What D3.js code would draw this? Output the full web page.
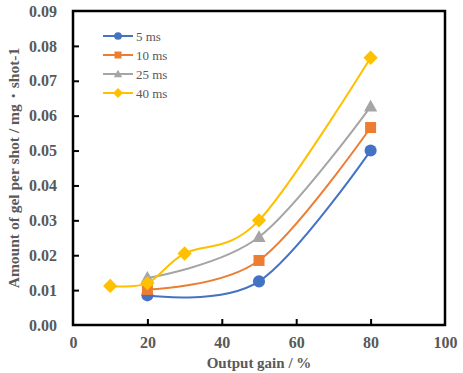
<!DOCTYPE html>
<html>
<head>
<meta charset="utf-8">
<script src="https://cdn.jsdelivr.net/npm/d3@7"></script>
<style>
  body { margin: 0; background: #fff; }
  text { font-family: "Liberation Serif", "Times New Roman", serif; }
</style>
</head>
<body>
<div id="chart"></div>
<script>
// output gain (%) per series, and gel amount (mg/shot)
var gain5 = [20, 50, 80];
var amount5 = [0.0085, 0.0125, 0.0500];
var gain10 = [20, 50, 80];
var amount10 = [0.0102, 0.0185, 0.0566];
var gain25 = [20, 50, 80];
var amount25 = [0.0135, 0.0252, 0.0626];
var gain40 = [10, 20, 30, 50, 80];
var amount40 = [0.0112, 0.0120, 0.0205, 0.0300, 0.0766];

var seriesNames = ['5 ms', '10 ms', '25 ms', '40 ms'];
var xTicks = [0, 20, 40, 60, 80, 100];
var yTicks = [0, 0.01, 0.02, 0.03, 0.04, 0.05, 0.06, 0.07, 0.08, 0.09];

var w = 463, h = 373;
var padL = 73, padR = 445, padT = 11, padB = 325;

var series = [
  { name: seriesNames[0], xs: gain5, ys: amount5, color: '#4472C4', shape: 'circle' },
  { name: seriesNames[1], xs: gain10, ys: amount10, color: '#ED7D31', shape: 'square' },
  { name: seriesNames[2], xs: gain25, ys: amount25, color: '#A5A5A5', shape: 'triangle' },
  { name: seriesNames[3], xs: gain40, ys: amount40, color: '#FFC000', shape: 'diamond' }
];

var xscale = d3.scaleLinear().domain([0, 100]).range([padL, padR]);
var yscale = d3.scaleLinear().domain([0, 0.09]).range([padB, padT]);

var svg = d3.select('#chart').append('svg')
  .attr('width', w)
  .attr('height', h);

var grey = '#595959';

// axes with inward ticks
var xaxis = d3.axisBottom(xscale).tickValues(xTicks).tickSize(-6).tickPadding(12)
  .tickFormat(d3.format('d'));
var yaxis = d3.axisLeft(yscale).tickValues(yTicks).tickSize(-6).tickPadding(16)
  .tickFormat(d3.format('.2f'));

var gx = svg.append('g').attr('transform', 'translate(0,' + padB + ')').call(xaxis);
var gy = svg.append('g').attr('transform', 'translate(' + padL + ',0)').call(yaxis);

[gx, gy].forEach(function(g) {
  g.select('.domain').remove();
  g.selectAll('.tick line').attr('stroke', '#000').attr('stroke-width', 2);
  g.selectAll('.tick text')
    .attr('fill', grey)
    .style('font-size', '16px')
    .style('font-weight', 'bold');
});
gx.selectAll('.tick').filter(function(d) { return d === 0 || d === 100; }).select('line').remove();
gy.selectAll('.tick').filter(function(d) { return d === 0 || d === 0.09; }).select('line').remove();

// frame
svg.append('rect')
  .attr('x', padL).attr('y', padT)
  .attr('width', padR - padL).attr('height', padB - padT)
  .attr('fill', 'none').attr('stroke', '#000').attr('stroke-width', 2.5);

// axis titles
svg.append('text')
  .attr('x', (padL + padR) / 2).attr('y', 368)
  .attr('text-anchor', 'middle')
  .attr('fill', grey)
  .style('font-size', '15px').style('font-weight', 'bold')
  .text('Output gain / %');

svg.append('text')
  .attr('transform', 'translate(19,' + ((padT + padB) / 2) + ') rotate(-90)')
  .attr('text-anchor', 'middle')
  .attr('fill', grey)
  .style('font-size', '15.5px').style('font-weight', 'bold')
  .text('Amount of gel per shot / mg\u30FBshot-1');

var line = d3.line()
  .x(function(d) { return xscale(d[0]); })
  .y(function(d) { return yscale(d[1]); })
  .curve(d3.curveCatmullRom.alpha(0));

function marker(g, shape, color, size) {
  if (shape === 'circle') {
    g.append('circle').attr('r', size * 0.55).attr('fill', color);
  } else if (shape === 'square') {
    g.append('rect').attr('x', -size / 2).attr('y', -size / 2)
      .attr('width', size).attr('height', size).attr('fill', color);
  } else if (shape === 'triangle') {
    g.append('path').attr('d', 'M0,' + (-size * 0.62) + 'L' + (size * 0.6) + ',' + (size * 0.45) +
      'L' + (-size * 0.6) + ',' + (size * 0.45) + 'Z').attr('fill', color);
  } else {
    var s = size * 0.55;
    g.append('path').attr('d', 'M0,' + (-s) + 'L' + s + ',0L0,' + s + 'L' + (-s) + ',0Z').attr('fill', color);
  }
}

series.forEach(function(s) {
  var pts = s.xs.map(function(x, i) { return [x, s.ys[i]]; });
  svg.append('path')
    .datum(pts)
    .attr('d', line)
    .attr('fill', 'none')
    .attr('stroke', s.color)
    .attr('stroke-width', 2);
  pts.forEach(function(p) {
    var g = svg.append('g').attr('transform', 'translate(' + xscale(p[0]) + ',' + yscale(p[1]) + ')');
    marker(g, s.shape, s.color, s.shape === 'diamond' ? 13 : 11);
  });
});

// legend
var legY = [36, 55, 74, 93];
series.forEach(function(s, i) {
  var lg = svg.append('g').attr('transform', 'translate(103,' + legY[i] + ')');
  lg.append('line').attr('x1', 0).attr('x2', 30).attr('stroke', s.color).attr('stroke-width', 2);
  marker(lg.append('g').attr('transform', 'translate(15,0)'), s.shape, s.color, s.shape === 'diamond' ? 9 : 7);
  lg.append('text').attr('x', 33).attr('y', 4.5)
    .attr('fill', grey)
    .style('font-size', '13px')
    .text(s.name);
});
</script>
</body>
</html>
